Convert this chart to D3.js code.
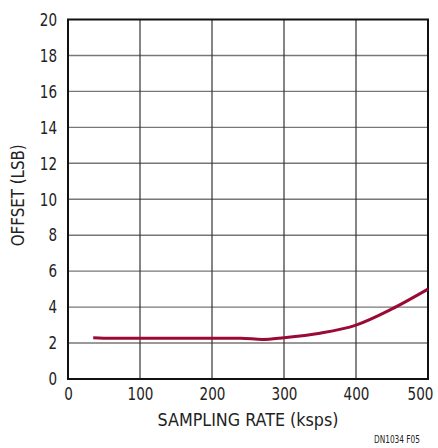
<!DOCTYPE html>
<html>
<head>
<meta charset="utf-8">
<script src="https://cdn.jsdelivr.net/npm/d3@7"></script>
<style>
  body { margin: 0; background: #fff; }
  svg { display: block; }
</style>
</head>
<body>
<div id="chart"></div>
<script>
// OFFSET vs SAMPLING RATE

var rate = [35, 60, 100, 150, 200, 240, 270, 300, 350, 400, 450, 500];
var offset = [2.3, 2.27, 2.27, 2.27, 2.27, 2.27, 2.2, 2.3, 2.55, 3.0, 3.9, 5.0];
var xTicks = [0, 100, 200, 300, 400, 500];
var yTicks = [0, 2, 4, 6, 8, 10, 12, 14, 16, 18, 20];

var margin = { top: 19.5, right: 10, bottom: 69, left: 68 },
    width = 438 - margin.left - margin.right,
    height = 448 - margin.top - margin.bottom;

var font = "'DejaVu Sans Condensed', 'Liberation Sans Narrow', sans-serif";

var svg = d3.select("#chart").append("svg")
    .attr("width", 438)
    .attr("height", 448)
    .append("g")
    .attr("transform", "translate(" + margin.left + "," + margin.top + ")");

var x = d3.scaleLinear().domain([0, 500]).range([0, width]);
var y = d3.scaleLinear().domain([0, 20]).range([height, 0]);

// grid
svg.append("g")
    .selectAll("line")
    .data(yTicks.slice(1, -1))
    .enter().append("line")
    .attr("x1", 0).attr("x2", width)
    .attr("y1", d => y(d)).attr("y2", d => y(d))
    .attr("stroke", "#777")
    .attr("stroke-width", 1.4);

svg.append("g")
    .selectAll("line")
    .data(xTicks.slice(1, -1))
    .enter().append("line")
    .attr("y1", 0).attr("y2", height)
    .attr("x1", d => x(d)).attr("x2", d => x(d))
    .attr("stroke", "#333")
    .attr("stroke-width", 1.2);

// frame
svg.append("rect")
    .attr("width", width)
    .attr("height", height)
    .attr("fill", "none")
    .attr("stroke", "#111")
    .attr("stroke-width", 2);

// curve
var line = d3.line()
    .x((d, i) => x(rate[i]))
    .y(d => y(d))
    .curve(d3.curveMonotoneX);

svg.append("path")
    .datum(offset)
    .attr("d", line)
    .attr("fill", "none")
    .attr("stroke", "#9a0a36")
    .attr("stroke-width", 3)
    .attr("stroke-linecap", "butt");

// axes - narrow digits like the original condensed face
function narrow(sel) {
    sel.style("font", "18px " + font)
        .attr("fill", "#222")
        .attr("lengthAdjust", "spacingAndGlyphs")
        .attr("textLength", function() { return this.textContent.length * 8.6; });
}

var xAxis = d3.axisBottom(x).tickValues(xTicks).tickSize(0).tickPadding(8);
var yAxis = d3.axisLeft(y).tickValues(yTicks).tickSize(0).tickPadding(11);

svg.append("g")
    .attr("transform", "translate(0," + height + ")")
    .call(xAxis)
    .call(g => g.select(".domain").remove())
    .selectAll("text")
    .call(narrow)
    // last label sits pulled in from the right edge, as in the original
    .filter(d => d === xTicks[xTicks.length - 1])
    .attr("dx", -8);

svg.append("g")
    .call(yAxis)
    .call(g => g.select(".domain").remove())
    .selectAll("text")
    .call(narrow);

svg.append("text")
    .style("font", "18px " + font)
    .attr("fill", "#222")
    .attr("text-anchor", "middle")
    .attr("x", width / 2)
    .attr("y", height + 47)
    .attr("lengthAdjust", "spacingAndGlyphs")
    .attr("textLength", 181)
    .text("SAMPLING RATE (ksps)");

svg.append("text")
    .style("font", "18px " + font)
    .attr("fill", "#222")
    .attr("text-anchor", "middle")
    .attr("transform", "translate(" + (-44) + "," + (height / 2 - 4) + ") rotate(-90)")
    .attr("lengthAdjust", "spacingAndGlyphs")
    .attr("textLength", 102)
    .text("OFFSET (LSB)");

svg.append("text")
    .style("font", "10px " + font)
    .attr("fill", "#222")
    .attr("text-anchor", "end")
    .attr("x", width - 8)
    .attr("y", height + 64)
    .attr("lengthAdjust", "spacingAndGlyphs")
    .attr("textLength", 46)
    .text("DN1034 F05");
</script>
</body>
</html>
